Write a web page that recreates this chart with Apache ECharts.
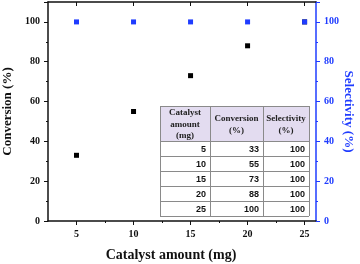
<!DOCTYPE html>
<html><head><meta charset="utf-8">
<script src="https://cdn.jsdelivr.net/npm/echarts@6/dist/echarts.min.js"></script>
<style>html,body{margin:0;padding:0;background:#fff}#c{width:360px;height:264px}</style>
</head><body><div id="c"></div>
<script>
const catalyst = [5, 10, 15, 20, 25];
const conversion = [33, 55, 73, 88, 100];
const selectivity = [100, 100, 100, 100, 100];
const xTicks = [5, 10, 15, 20, 25];
const xMinorTicks = [7.5, 12.5, 17.5, 22.5];
const tableHeader = ['Catalyst\namount\n(mg)', 'Conversion\n(%)', 'Selectivity\n(%)'];

const BLUE = '#1f3cff';
const serif = '"Liberation Serif","Times New Roman",serif';
const sans = '"Liberation Sans",Arial,sans-serif';
const chart = echarts.init(document.getElementById('c'));

// table layout
const tx = 160, ty = 106, colX = [160, 210, 263, 309], headH = 35, rowH = 15;
const graphics = [];
const tW = colX[3] - colX[0], tH = headH + rowH * catalyst.length;
graphics.push({type:'rect', shape:{x:tx, y:ty, width:tW, height:headH}, style:{fill:'#e3dcf0'}, z:10});
graphics.push({type:'rect', shape:{x:tx, y:ty+headH, width:tW, height:rowH*catalyst.length}, style:{fill:'#fff'}, z:10});
for (let i = 0; i <= catalyst.length + 1; i++) {
  const y = i === 0 ? ty : ty + headH + (i - 1) * rowH;
  graphics.push({type:'line', shape:{x1:tx, y1:y+0.5, x2:tx+tW, y2:y+0.5}, style:{stroke:'#8a8a8a', lineWidth:1}, z:11});
}
colX.forEach(x => graphics.push({type:'line', shape:{x1:x+0.5, y1:ty, x2:x+0.5, y2:ty+tH}, style:{stroke:'#8a8a8a', lineWidth:1}, z:11}));
tableHeader.forEach((h, j) => {
  graphics.push({type:'text', x:(colX[j]+colX[j+1])/2, y:ty+headH/2+1, z:12,
    style:{text:h, font:'bold 9px ' + serif, fill:'#222', align:'center', verticalAlign:'middle', lineHeight:11.5}});
});
catalyst.forEach((c, i) => {
  const vals = [c, conversion[i], selectivity[i]];
  vals.forEach((v, j) => {
    graphics.push({type:'text', x:colX[j+1]-4, y:ty+headH+i*rowH+rowH/2+1, z:12,
      style:{text:String(v), font:'bold 9px ' + sans, fill:'#111', align:'right', verticalAlign:'middle'}});
  });
});

const axisLbl = {fontFamily: serif, fontWeight:'bold', fontSize:10, color:'#111'};
chart.setOption({
  animation:false,
  grid:{left:48, right:44, top:2, bottom:43, containLabel:false, outerBoundsMode:'none'},
  xAxis:[
    {type:'value', position:'bottom', min:2.5, max:26,
     name:'Catalyst amount (mg)', nameLocation:'middle', nameGap:27, nameMoveOverlap:false,
     nameTextStyle:{fontFamily:serif, fontWeight:'bold', fontSize:14, color:'#111', padding:[0,22,0,0]},
     axisLine:{show:true, onZero:false, lineStyle:{color:'#111', width:1.5}},
     axisTick:{show:true, inside:false, length:4, customValues:xTicks, lineStyle:{color:'#111'}},
     axisLabel:Object.assign({customValues:xTicks, margin:8}, axisLbl),
     splitLine:{show:false}},
    {type:'value', position:'bottom', min:2.5, max:26,
     axisLine:{show:false}, axisLabel:{show:false},
     axisTick:{show:true, inside:false, length:2, customValues:xMinorTicks, lineStyle:{color:'#111'}},
     splitLine:{show:false}},
    {type:'value', position:'top', min:2.5, max:26,
     axisLine:{show:true, onZero:false, lineStyle:{color:'#111', width:1.5}}, axisLabel:{show:false},
     axisTick:{show:true, inside:true, length:4, customValues:xTicks, lineStyle:{color:'#111'}},
     splitLine:{show:false}},
    {type:'value', position:'top', min:2.5, max:26,
     axisLine:{show:false}, axisLabel:{show:false},
     axisTick:{show:true, inside:true, length:2, customValues:xMinorTicks, lineStyle:{color:'#111'}},
     splitLine:{show:false}}
  ],
  yAxis:[
    {type:'value', position:'left', min:0, max:110, interval:20,
     name:'Conversion (%)', nameLocation:'middle', nameGap:34, nameMoveOverlap:false,
     nameTextStyle:{fontFamily:serif, fontWeight:'bold', fontSize:13, color:'#111'},
     axisLine:{show:true, onZero:false, lineStyle:{color:'#111', width:1.5}},
     axisTick:{show:true, length:4, lineStyle:{color:'#111'}},
     minorTick:{show:true, splitNumber:2, length:2, lineStyle:{color:'#111'}},
     axisLabel:Object.assign({margin:8, showMaxLabel:false, formatter:v => v > 100 ? '' : String(v)}, axisLbl),
     splitLine:{show:false}},
    {type:'value', position:'right', min:0, max:110, interval:20,
     name:'Selectivity (%)', nameLocation:'middle', nameGap:26, nameRotate:-90, nameMoveOverlap:false,
     nameTextStyle:{fontFamily:serif, fontWeight:'bold', fontSize:13, color:BLUE},
     axisLine:{show:true, onZero:false, lineStyle:{color:BLUE, width:1.5}},
     axisTick:{show:true, length:4, lineStyle:{color:BLUE}},
     minorTick:{show:true, splitNumber:2, length:2, lineStyle:{color:BLUE}},
     axisLabel:Object.assign({}, axisLbl, {color:BLUE, margin:8, showMaxLabel:false, formatter:v => v > 100 ? '' : String(v)}),
     splitLine:{show:false}}
  ],
  series:[
    {type:'scatter', xAxisIndex:0, yAxisIndex:0, symbol:'rect', symbolSize:5,
     itemStyle:{color:'#000', opacity:1}, data:catalyst.map((c,i)=>[c, conversion[i]]), z:2},
    {type:'scatter', xAxisIndex:0, yAxisIndex:1, symbol:'rect', symbolSize:5,
     itemStyle:{color:BLUE, opacity:1}, data:catalyst.map((c,i)=>[c, selectivity[i]]), z:10}
  ],
  graphic:graphics
});
</script></body></html>
